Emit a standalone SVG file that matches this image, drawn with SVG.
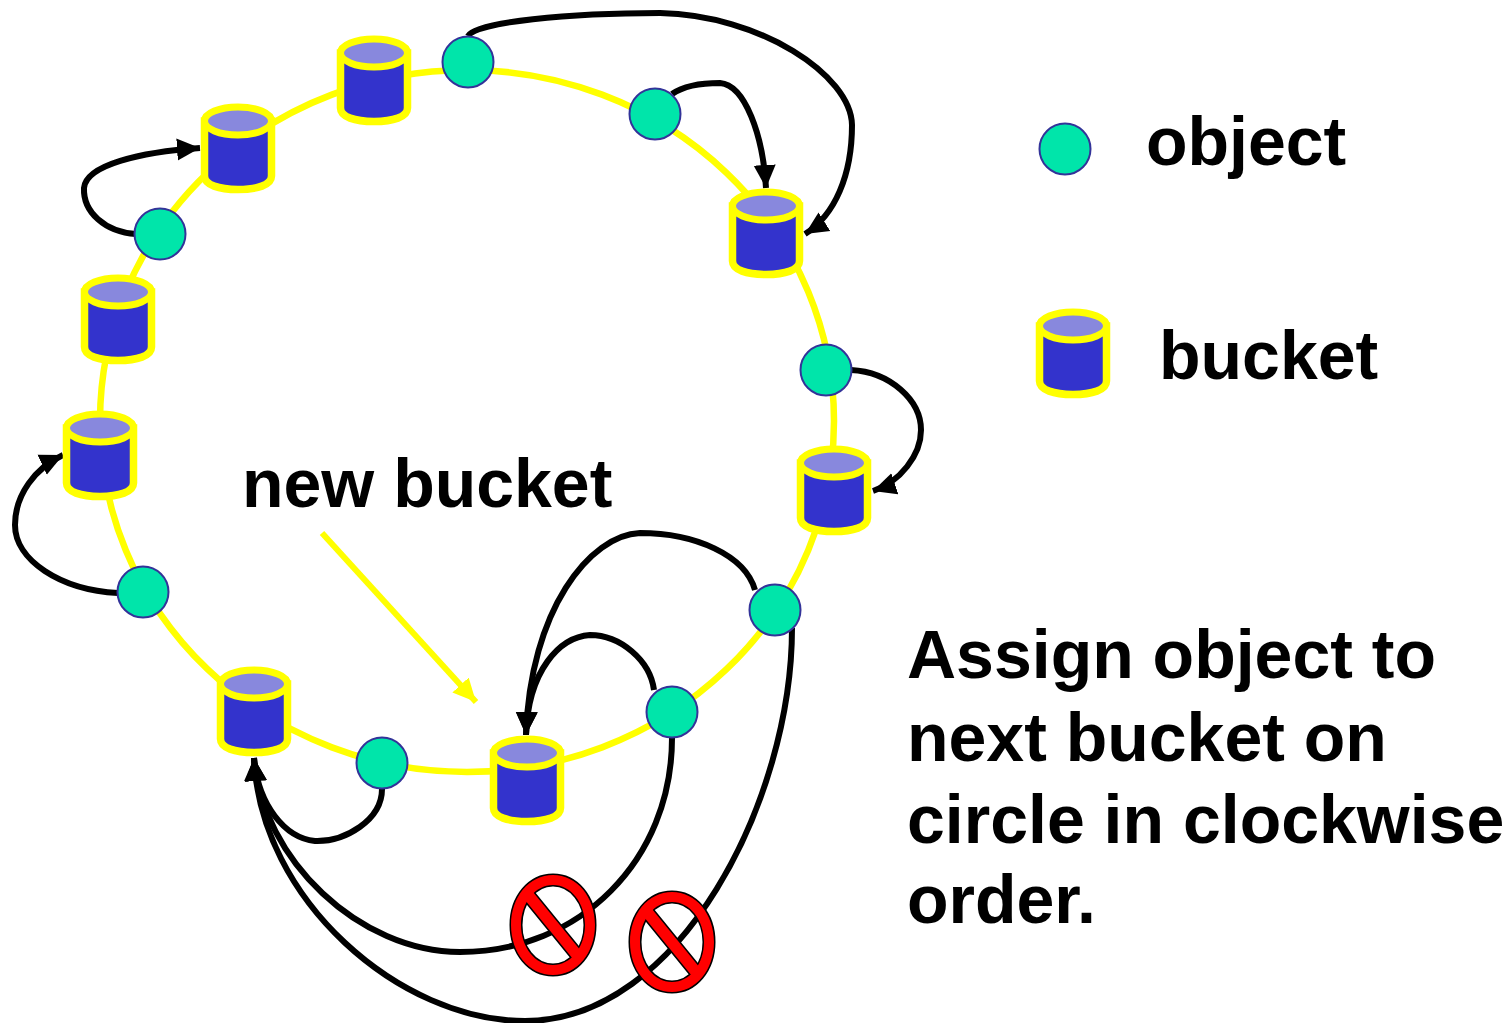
<svg xmlns="http://www.w3.org/2000/svg" width="1512" height="1023" viewBox="0 0 1512 1023">
<style>
.ring{fill:none;stroke:#ffff00;stroke-width:6.500}
.c{fill:none;stroke:#000;stroke-width:6}
.ya{fill:none;stroke:#ffff00;stroke-width:6}
.obj{fill:#00e5aa;stroke:#333399;stroke-width:2}
.body{fill:#3333cc;stroke:#ffff00;stroke-width:7.500}
.top{fill:#8888dd;stroke:#ffff00;stroke-width:7}
.t{font-family:"Liberation Sans",Arial,sans-serif;font-weight:700;font-size:68px;fill:#000}
</style>
<defs>
<marker id="a" markerUnits="userSpaceOnUse" markerWidth="26" markerHeight="26" refX="23" refY="12" orient="auto"><path d="M0 1L23 12L0 23z" fill="#000"/></marker>
<marker id="y" markerUnits="userSpaceOnUse" markerWidth="26" markerHeight="26" refX="23" refY="12" orient="auto"><path d="M0 1L23 12L0 23z" fill="#ffff00"/></marker>
<symbol id="bucket" overflow="visible"><path class="body" d="M-33.500 17V72C-33.500 81-19 85.500 0 85.500S33.500 81 33.500 72V17z"/><ellipse class="top" cx="0" cy="17" rx="33.500" ry="14"/></symbol>
<symbol id="no" overflow="visible">
<path d="M0-50C24-50 42-28 42 0S24 50 0 50S-42 28-42 0S-24-50 0-50zM0-40C-18-40-32-22-32 0S-18 40 0 40S32 22 32 0S18-40 0-40z" fill="#000" fill-rule="evenodd" stroke="#000" stroke-width="3"/>
<path d="M-28-25L-20-33L28 26L20 34z" fill="#000" stroke="#000" stroke-width="3"/>
<path d="M0-50C24-50 42-28 42 0S24 50 0 50S-42 28-42 0S-24-50 0-50zM0-40C-18-40-32-22-32 0S-18 40 0 40S32 22 32 0S18-40 0-40z" fill="#ff0000" fill-rule="evenodd"/>
<path d="M-28-25L-20-33L28 26L20 34z" fill="#ff0000"/>
</symbol>
</defs>
<ellipse class="ring" cx="467" cy="421" rx="367" ry="351"/>
<g id="connectors">
<path class="c" marker-end="url(#a)" d="M468 36C475 22 570 13 660 13C760 15 851 75 852 125C852 175 835 215 805 234"/>
<path class="c" marker-end="url(#a)" d="M672 94C685 85 705 83 720 83C745 85 763 135 766 188"/>
<path class="c" marker-end="url(#a)" d="M136 234C105 232 83 212 84 188C86 165 140 152 200 148"/>
<path class="c" marker-end="url(#a)" d="M851 370C890 372 921 400 921 430C921 455 900 482 873 491"/>
<path class="c" marker-end="url(#a)" d="M118 593C60 590 15 560 15 525C15 495 35 468 63 455"/>
<path class="c" marker-end="url(#a)" d="M755 590C745 555 695 533 640 533C590 535 530 610 526 735"/>
<path class="c" marker-end="url(#a)" d="M654 690C650 660 620 635 590 635C560 637 528 670 526 735"/>
<path class="c" marker-end="url(#a)" d="M382 789C382 820 345 842 315 841C285 838 258 805 254 758"/>
<path class="c" marker-end="url(#a)" d="M672 738C672 860 580 952 460 952C360 952 262 860 254 758"/>
<path class="c" marker-end="url(#a)" d="M792 628C792 800 680 1021 525 1021C400 1021 260 900 254 758"/>
</g>
<path class="ya" marker-end="url(#y)" d="M322 533L476 702"/>
<g id="bucket-1"><use href="#bucket" x="374" y="36"/></g>
<g id="bucket-2"><use href="#bucket" x="238" y="104"/></g>
<g id="bucket-3"><use href="#bucket" x="118" y="275"/></g>
<g id="bucket-4"><use href="#bucket" x="100" y="411"/></g>
<g id="bucket-5"><use href="#bucket" x="254" y="667"/></g>
<g id="bucket-6"><use href="#bucket" x="527" y="736"/></g>
<g id="bucket-7"><use href="#bucket" x="834" y="446"/></g>
<g id="bucket-8"><use href="#bucket" x="766" y="189"/></g>
<g id="bucket-legend"><use href="#bucket" x="1073" y="309"/></g>
<g id="object-1"><circle class="obj" cx="468" cy="62" r="25.500"/></g>
<g id="object-2"><circle class="obj" cx="655" cy="114" r="25.500"/></g>
<g id="object-3"><circle class="obj" cx="160" cy="234" r="25.500"/></g>
<g id="object-4"><circle class="obj" cx="826" cy="370" r="25.500"/></g>
<g id="object-5"><circle class="obj" cx="143" cy="592" r="25.500"/></g>
<g id="object-6"><circle class="obj" cx="775" cy="610" r="25.500"/></g>
<g id="object-7"><circle class="obj" cx="672" cy="712" r="25.500"/></g>
<g id="object-8"><circle class="obj" cx="382" cy="763" r="25.500"/></g>
<g id="object-legend"><circle class="obj" cx="1065" cy="149" r="25.500"/></g>
<g id="no-1"><use href="#no" x="553" y="925"/></g>
<g id="no-2"><use href="#no" x="672" y="942"/></g>
<text class="t" x="1146" y="165">object</text>
<text class="t" x="1159" y="379">bucket</text>
<text class="t" x="242" y="507">new bucket</text>
<text class="t" x="907" y="678">Assign object to</text>
<text class="t" x="907" y="761">next bucket on</text>
<text class="t" x="907" y="843">circle in clockwise</text>
<text class="t" x="907" y="923">order.</text>
</svg>
